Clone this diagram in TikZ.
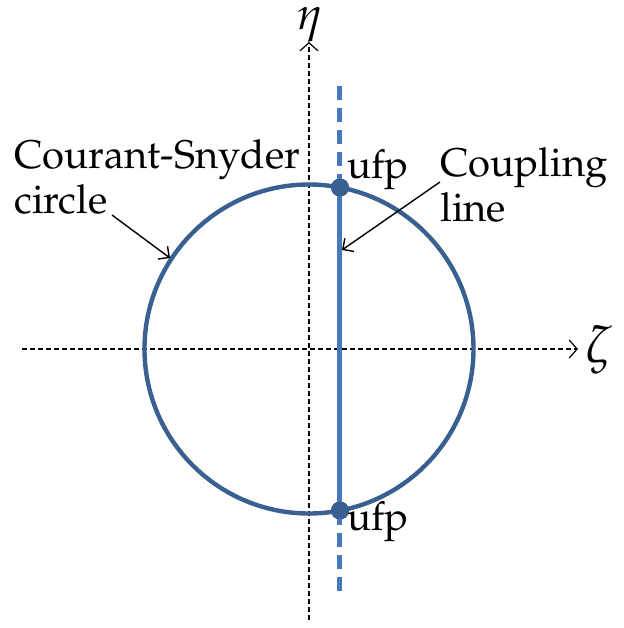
\documentclass[tikz,border=0pt]{standalone}
\usepackage[T1]{fontenc}
\usepackage{mathpazo}
\usetikzlibrary{arrows.meta}
\definecolor{csblue}{RGB}{58,96,146}
\definecolor{cplblue}{RGB}{70,120,190}

\begin{document}
\begin{tikzpicture}[x=0.5pt, y=0.5pt, every node/.style={font=\fontsize{20}{22.5}\selectfont},
	axis/.style={black, line width=0.6pt, dash pattern=on 2.5pt off 1.5pt, -{Straight Barb[length=4pt, width=9pt, line width=0.6pt]}},
	pointer/.style={black, line width=0.7pt, -{Straight Barb[length=4pt, width=8pt, line width=0.7pt]}},
	ufpdot/.style={circle, fill=csblue, inner sep=0pt, minimum size=9pt}]
	\useasboundingbox (-309,-279) rectangle (314,349);
	% axes
	\coordinate (etabot) at (0,-271);
	\coordinate (etatop) at (0,307);
	\coordinate (zetaleft) at (-287,0);
	\coordinate (zetaright) at (269,0);
	\draw[axis] (etabot) -- (etatop);
	\draw[axis] (zetaleft) -- (zetaright);
	\node[font=\fontsize{23}{23}\selectfont, inner sep=0pt] (eta) at (1,324) {$\eta$};
	\node[font=\fontsize{26}{26}\selectfont, inner sep=0pt] (zeta) at (290,-1) {$\zeta$};
	% Courant-Snyder circle
	\node[draw=csblue, line width=2.2pt, circle, minimum size=164.5pt, inner sep=0pt, outer sep=0pt] (cs) at (0,0) {};
	% coupling line
	\coordinate (cpltop) at (31,267);
	\coordinate (cplbot) at (31,-244);
	\node[ufpdot] (ufpa) at (31,161.5) {};
	\node[ufpdot] (ufpb) at (31,-161.5) {};
	\draw[cplblue, line width=2.5pt] (ufpa.center) -- (ufpb.center);
	\draw[cplblue, line width=2.5pt, dash pattern=on 7pt off 4pt] (ufpa.center) -- (cpltop);
	\draw[cplblue, line width=2.5pt, dash pattern=on 7pt off 4pt] (ufpb.center) -- (cplbot);
	\fill[csblue] (ufpa) circle (4.5pt);
	\fill[csblue] (ufpb) circle (4.5pt);
	\node (ufpatext) at (69,179) {ufp};
	\node (ufpbtext) at (69,-173) {ufp};
	% labels
	\node[align=left, inner sep=0pt, anchor=base west] (cslabel) at (-295,136) {Courant-Snyder\\circle};
	\node[align=left, inner sep=0pt, anchor=base west] (cpllabel) at (131,128) {Coupling\\line};
	\coordinate (csend) at (-139,91);
	\coordinate (cplend) at (33,99);
	\draw[pointer] (-197,134) -- (csend);
	\draw[pointer] (131,167) -- (cplend);
\end{tikzpicture}
\end{document}
